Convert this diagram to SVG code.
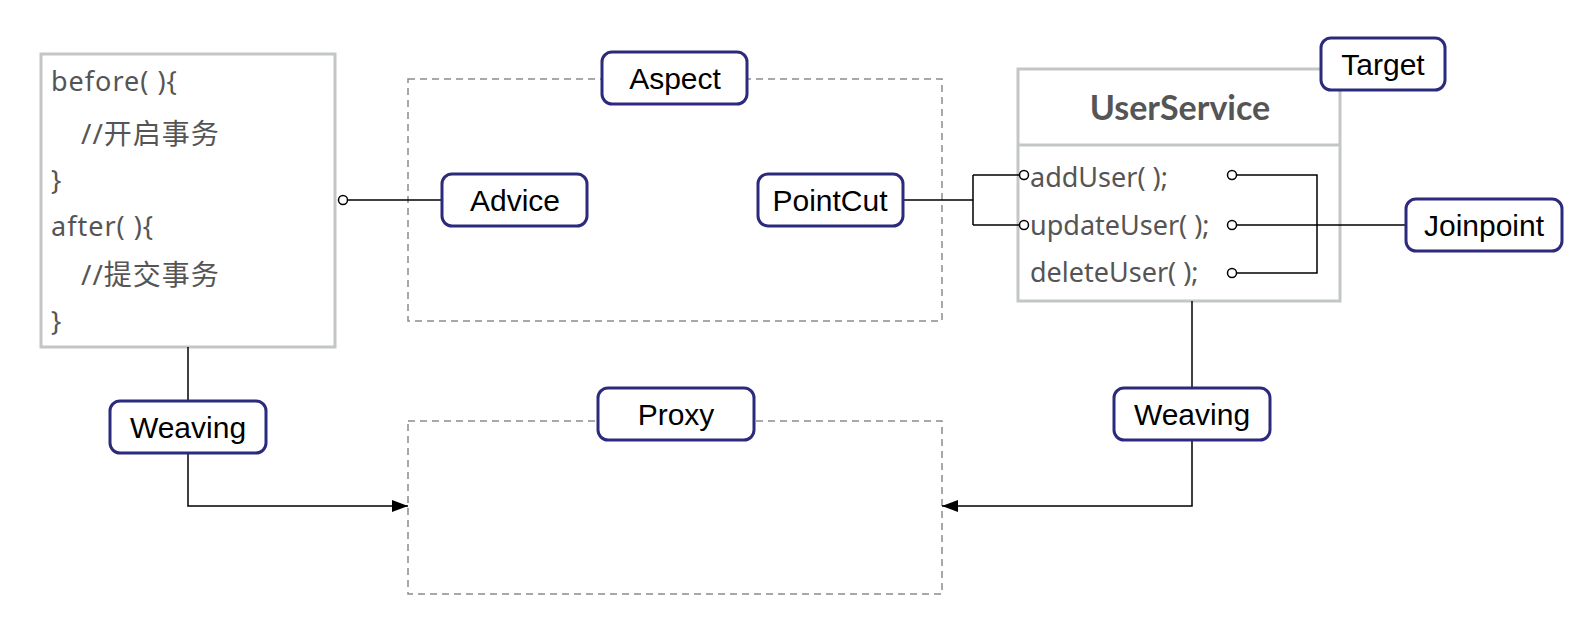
<svg xmlns="http://www.w3.org/2000/svg" width="1594" height="638" viewBox="0 0 1594 638">
<style>
.lbl{fill:#fff;stroke:#2c2a7c;stroke-width:3}
.lt{font-family:"Liberation Sans",Arial,sans-serif;font-size:30px;fill:#000;text-anchor:middle;dominant-baseline:central}
.code{font-family:"Noto Sans","Noto Sans CJK SC",sans-serif;font-size:27px;letter-spacing:1px;fill:#555}
.cjk{font-size:28px}
.m{letter-spacing:0}
.grey{fill:#fff;stroke:#c3c6c6;stroke-width:3}
.dash{fill:none;stroke:#8c8c8c;stroke-width:1.5;stroke-dasharray:7 5}
.ln{fill:none;stroke:#000;stroke-width:1.5}
.dot{fill:#fff;stroke:#000;stroke-width:1.5}
</style>
<defs>
<marker id="arr" markerWidth="16" markerHeight="12" refX="16" refY="6" orient="auto" markerUnits="userSpaceOnUse">
<path d="M0,0 L16,6 L0,12 Z" fill="#000"/>
</marker>
</defs>
<rect width="1594" height="638" fill="#fff"/>

<g id="aspect-frame"><rect class="dash" x="408" y="79" width="534" height="242"/></g>
<g id="proxy-frame"><rect class="dash" x="408" y="421" width="534" height="173"/></g>

<g id="advice-code">
<rect class="grey" x="41" y="54" width="294" height="293"/>
<text class="code" x="51" y="91">before( ){</text>
<text class="code cjk" x="81" y="144">//开启事务</text>
<text class="code" x="51" y="190">}</text>
<text class="code" x="51" y="236">after( ){</text>
<text class="code cjk" x="81" y="285">//提交事务</text>
<text class="code" x="51" y="331">}</text>
</g>

<g id="userservice">
<rect class="grey" x="1018" y="69" width="322" height="232"/>
<line x1="1018" y1="145" x2="1340" y2="145" stroke="#c3c6c6" stroke-width="3"/>
<text x="1180" y="120" text-anchor="middle" font-family="Lato,'Noto Sans',sans-serif" font-weight="bold" font-size="34" fill="#555">UserService</text>
<text class="code m" x="1030" y="187">addUser( );</text>
<text class="code m" x="1030" y="235">updateUser( );</text>
<text class="code m" x="1030" y="282">deleteUser( );</text>
</g>

<g id="connectors">
<line class="ln" x1="347" y1="200" x2="442" y2="200"/>
<circle class="dot" cx="343" cy="200" r="4.5"/>
<path class="ln" d="M903,200 H973 M973,175 V225 M973,175 H1020 M973,225 H1020"/>
<circle class="dot" cx="1024" cy="175" r="4.5"/>
<circle class="dot" cx="1024" cy="225" r="4.5"/>
<path class="ln" d="M1237,175 H1317 V273 H1237 M1237,225 H1406"/>
<circle class="dot" cx="1232" cy="175" r="4.5"/>
<circle class="dot" cx="1232" cy="225" r="4.5"/>
<circle class="dot" cx="1232" cy="273" r="4.5"/>
<line class="ln" x1="188" y1="347" x2="188" y2="401"/>
<path class="ln" d="M188,453 V506 H408" marker-end="url(#arr)"/>
<line class="ln" x1="1192" y1="301" x2="1192" y2="388"/>
<path class="ln" d="M1192,440 V506 H942" marker-end="url(#arr)"/>
</g>

<g id="aspect"><rect class="lbl" x="602" y="52" width="145" height="52" rx="10"/><text class="lt" x="675" y="78">Aspect</text></g>
<g id="advice"><rect class="lbl" x="442" y="174" width="145" height="52" rx="10"/><text class="lt" x="515" y="200">Advice</text></g>
<g id="pointcut"><rect class="lbl" x="758" y="174" width="145" height="52" rx="10"/><text class="lt" x="830" y="200">PointCut</text></g>
<g id="target"><rect class="lbl" x="1321" y="38" width="124" height="52" rx="10"/><text class="lt" x="1383" y="64">Target</text></g>
<g id="joinpoint"><rect class="lbl" x="1406" y="199" width="156" height="52" rx="10"/><text class="lt" x="1484" y="225">Joinpoint</text></g>
<g id="weaving-left"><rect class="lbl" x="110" y="401" width="156" height="52" rx="10"/><text class="lt" x="188" y="427">Weaving</text></g>
<g id="weaving-right"><rect class="lbl" x="1114" y="388" width="156" height="52" rx="10"/><text class="lt" x="1192" y="414">Weaving</text></g>
<g id="proxy"><rect class="lbl" x="598" y="388" width="156" height="52" rx="10"/><text class="lt" x="676" y="414">Proxy</text></g>
</svg>
